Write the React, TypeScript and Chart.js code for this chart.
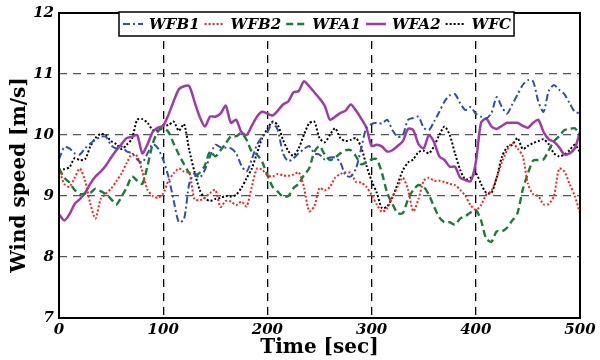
import React, { useEffect, useRef } from "react";
import { Chart, registerables } from "chart.js";

Chart.register(...registerables);

// Time samples [sec]
const TIME = Array.from({ length: 101 }, (_, i) => i * 5);

const WFB1 = [
  9.6, 9.8, 9.78, 9.7, 9.68, 9.78, 9.86, 9.92, 9.97, 9.97,
  9.83, 9.78, 9.81, 9.73, 9.7, 9.6, 9.55, 9.7, 9.85, 9.78,
  9.59, 9.32, 8.93, 8.57, 8.62, 9.2, 9.37, 9.3, 9.43, 9.65,
  9.84, 9.8, 9.79, 9.78, 9.7, 9.5, 9.4, 9.6, 9.84, 9.97,
  10.05, 10.2, 10.08, 9.7, 9.57, 9.62, 9.7, 9.77, 9.82, 9.7,
  9.68, 9.6, 9.63, 9.63, 9.55, 9.34, 9.32, 9.45, 9.78, 10.12,
  10.18, 10.2, 10.19, 10.25, 10.08, 9.97, 10.0, 10.25, 10.28, 10.3,
  10.12, 10.08, 10.22, 10.38, 10.55, 10.65, 10.67, 10.52, 10.41, 10.46,
  10.35, 10.3, 10.27, 10.36, 10.62, 10.46, 10.35, 10.5, 10.66, 10.82,
  10.9, 10.88, 10.55, 10.38, 10.72, 10.82, 10.74, 10.67, 10.52, 10.38,
  10.36,
];

const WFB2 = [
  9.45, 9.2, 9.15, 9.3, 9.45, 9.25, 8.88, 8.63, 8.95, 9.04,
  9.12, 9.24, 9.37, 9.54, 9.69, 9.65, 9.4, 9.1, 9.0, 8.97,
  9.04, 9.25, 9.37, 9.45, 9.4, 9.38, 8.95, 8.93, 8.97, 9.05,
  9.1, 8.82, 8.92, 8.91, 8.85, 8.91, 8.83, 9.15, 9.45, 9.43,
  9.34, 9.32, 9.36, 9.34, 9.33, 9.35, 9.39, 9.15, 8.75, 8.83,
  9.13, 9.09, 9.15, 9.3, 9.36, 9.39, 9.38, 9.23, 9.22, 9.15,
  9.02, 8.86, 8.74, 8.8, 8.98, 9.15, 9.3, 9.1, 8.75, 8.95,
  9.25, 9.3, 9.25, 9.25, 9.23, 9.2, 9.18, 9.1, 9.0, 8.85,
  8.77, 8.85, 9.02, 9.08, 9.3, 9.55, 9.75, 9.87, 9.78, 9.66,
  9.2, 9.03, 9.0, 8.86, 8.87, 9.0, 9.45, 9.4, 9.2, 9.0,
  8.72,
];

const WFA1 = [
  9.45, 9.3, 9.22, 9.1, 9.03, 9.04, 9.05, 9.12, 9.08, 9.03,
  8.95, 8.86, 8.99, 9.14, 9.32, 9.25, 9.2, 9.5, 9.86, 10.06,
  10.11, 10.05, 9.86, 9.68, 9.52, 9.38, 9.34, 9.38, 9.5, 9.73,
  9.65, 9.75, 9.86, 9.98, 9.98, 10.03, 9.92, 9.73, 9.68, 9.56,
  9.34, 9.15, 9.07, 8.99, 9.0, 9.13, 9.2, 9.34, 9.45, 9.72,
  9.82, 9.68, 9.59, 9.63, 9.7, 9.75, 9.75, 9.65, 9.52, 9.55,
  9.6, 9.6, 9.37, 9.05, 8.87, 8.72, 8.72, 8.95, 9.1, 9.18,
  9.15, 9.02, 8.82, 8.65, 8.57, 8.57, 8.53, 8.63, 8.67, 8.73,
  8.77, 8.6, 8.3, 8.25, 8.42, 8.42, 8.48, 8.6, 8.72, 9.1,
  9.37, 9.58, 9.59, 9.6, 9.75, 9.9, 9.98, 10.08, 10.1, 10.11,
  10.0,
];

const WFA2 = [
  8.7, 8.6, 8.7, 8.87, 8.95, 9.05, 9.2, 9.32, 9.4, 9.5,
  9.63, 9.75, 9.85, 9.95, 9.97, 10.0, 9.7, 9.85, 10.05, 10.12,
  10.15, 10.33, 10.55, 10.75, 10.8, 10.8, 10.55, 10.3, 10.14, 10.3,
  10.3, 10.35, 10.48, 10.2, 10.25, 10.05, 10.0, 10.15, 10.3, 10.38,
  10.35, 10.32, 10.4, 10.5, 10.55, 10.7, 10.72, 10.88, 10.8, 10.7,
  10.6, 10.48, 10.25, 10.3, 10.36, 10.4, 10.5, 10.4, 10.27, 10.12,
  9.82, 9.84, 9.81, 9.73, 9.75, 9.82, 9.9, 10.1, 10.08, 9.85,
  9.78, 10.0, 9.88, 9.65, 9.59, 9.48, 9.48, 9.3, 9.26, 9.24,
  9.55, 10.2, 10.27, 10.14, 10.1, 10.15, 10.2, 10.2, 10.2, 10.15,
  10.12, 10.2, 10.25, 10.05, 9.93, 9.89, 9.8, 9.68, 9.7, 9.78,
  10.05,
];

const WFC = [
  9.43, 9.44, 9.47, 9.62, 9.59, 9.6, 9.81, 9.95, 10.02, 9.99,
  9.9, 9.85, 9.77, 9.84, 9.94, 10.25, 10.26, 10.2, 10.08, 10.08,
  10.16, 10.16, 10.22, 10.07, 10.18, 9.75, 9.4, 9.1, 8.96, 8.92,
  8.95, 8.97, 9.0, 8.99, 9.02, 9.13, 9.29, 9.45, 9.7, 9.95,
  10.1, 10.22, 10.16, 9.92, 9.74, 9.66, 9.78, 10.0, 10.19, 10.22,
  9.95, 9.88, 10.0, 10.11, 9.95, 9.9, 9.92, 9.95, 9.8, 9.5,
  9.25, 9.05, 8.8, 8.83, 8.98, 9.2, 9.42, 9.55, 9.6, 9.72,
  9.74, 9.7, 9.82, 10.0, 10.14, 10.0, 9.7, 9.43, 9.27, 9.3,
  9.37, 9.2, 9.05, 9.05, 9.3, 9.64, 9.8, 9.84, 9.95, 9.77,
  9.82, 9.87, 9.9, 9.93, 9.85, 9.7, 9.65, 9.68, 9.75, 9.84,
  9.72,
];

const SERIES_NAMES = ["WFB1", "WFB2", "WFA1", "WFA2", "WFC"];
const SERIES_VALUES = [WFB1, WFB2, WFA1, WFA2, WFC];
const X_TITLE = "Time [sec]";
const Y_TITLE = "Wind speed [m/s]";
const X_MIN = 0, X_MAX = 500, X_STEP = 100;
const Y_MIN = 7, Y_MAX = 12, Y_STEP = 1;

const STYLES = [
  { color: "#2f4fae", dash: [7, 3, 2, 3], width: 2 },
  { color: "#ff2020", dash: [2, 2], width: 2 },
  { color: "#1b7d35", dash: [7, 4], width: 2.4 },
  { color: "#a03aa8", dash: [], width: 2.5 },
  { color: "#000000", dash: [2, 2], width: 2 },
];

const SERIF = '"DejaVu Serif", serif';

const framePlugin = {
  id: "frame",
  afterDraw(chart: any) {
    const { ctx, chartArea: a } = chart;
    ctx.save();
    ctx.strokeStyle = "#000";
    ctx.lineWidth = 2;
    ctx.setLineDash([]);
    ctx.strokeRect(a.left, a.top, a.right - a.left, a.bottom - a.top);

    // y-axis title
    ctx.translate(20, 175);
    ctx.rotate(-Math.PI / 2);
    ctx.font = `bold 20px ${SERIF}`;
    ctx.fillStyle = "#000";
    ctx.textAlign = "center";
    ctx.textBaseline = "middle";
    ctx.fillText(Y_TITLE, 0, 0);
    ctx.restore();

    // legend box
    ctx.save();
    ctx.font = `bold italic 15px ${SERIF}`;
    const sample = 20, gap1 = 6, gap2 = 5, padL = 4, padR = 3;
    const items = chart.data.datasets.map((d: any) => ({
      label: d.label,
      color: d.borderColor,
      dash: d.borderDash,
      width: d.borderWidth,
      w: ctx.measureText(d.label).width,
    }));
    let total = padL + padR;
    items.forEach((it: any, i: number) => {
      total += sample + gap1 + it.w + (i < items.length - 1 ? gap2 : 0);
    });
    const cx = 317;
    const bx = Math.round(cx - total / 2);
    const by = 12, bh = 24;
    ctx.fillStyle = "#fff";
    ctx.fillRect(bx, by, total, bh);
    ctx.strokeStyle = "#000";
    ctx.lineWidth = 1.5;
    ctx.strokeRect(bx, by, total, bh);
    let x = bx + padL;
    const ym = by + bh / 2;
    items.forEach((it: any) => {
      ctx.beginPath();
      ctx.strokeStyle = it.color;
      ctx.lineWidth = it.width;
      ctx.setLineDash(it.dash || []);
      ctx.moveTo(x, ym);
      ctx.lineTo(x + sample, ym);
      ctx.stroke();
      ctx.setLineDash([]);
      x += sample + gap1;
      ctx.fillStyle = "#000";
      ctx.textAlign = "left";
      ctx.textBaseline = "middle";
      ctx.fillText(it.label, x, ym + 1);
      x += it.w + gap2;
    });
    ctx.restore();
  },
};

export default function App() {
  const ref = useRef<HTMLCanvasElement | null>(null);

  useEffect(() => {
    document.body.style.margin = "0";
    const canvas = ref.current;
    if (!canvas) return;
    const datasets = SERIES_NAMES.map((name, k) => ({
      label: name,
      data: TIME.map((t, i) => ({ x: t, y: SERIES_VALUES[k][i] })),
      borderColor: STYLES[k].color,
      backgroundColor: STYLES[k].color,
      borderDash: STYLES[k].dash,
      borderWidth: STYLES[k].width,
      pointRadius: 0,
      tension: 0.25,
      fill: false,
    }));

    const chart = new Chart(canvas, {
      type: "line",
      data: { datasets },
      options: {
        animation: false,
        responsive: false,
        maintainAspectRatio: false,
        layout: { padding: { top: 13, right: 20, left: 0, bottom: 0 } },
        plugins: { legend: { display: false }, tooltip: { enabled: false } },
        scales: {
          x: {
            type: "linear",
            min: X_MIN,
            max: X_MAX,
            ticks: {
              stepSize: X_STEP,
              padding: 3,
              color: "#000",
              font: { family: SERIF, size: 15, weight: "bold", style: "italic" },
            },
            grid: {
              drawTicks: false,
              lineWidth: 1.3,
              color: (c: any) =>
                c.tick && (c.tick.value === X_MIN || c.tick.value === X_MAX) ? "rgba(0,0,0,0)" : "#000",
            },
            border: { display: false, dash: [8, 6] },
            title: {
              display: true,
              text: X_TITLE,
              color: "#000",
              padding: 0,
              font: { family: SERIF, size: 20, weight: "bold" },
            },
            afterFit: (s: any) => {
              s.height = 42;
              s.paddingLeft = 0;
              s.paddingRight = 0;
            },
          },
          y: {
            min: Y_MIN,
            max: Y_MAX,
            ticks: {
              stepSize: Y_STEP,
              padding: 5,
              color: "#000",
              font: { family: SERIF, size: 15, weight: "bold", style: "italic" },
            },
            grid: {
              drawTicks: false,
              lineWidth: 1.3,
              color: (c: any) =>
                c.tick && (c.tick.value === Y_MIN || c.tick.value === Y_MAX) ? "rgba(0,0,0,0)" : "#555",
            },
            border: { display: false, dash: [8, 6] },
            afterFit: (s: any) => {
              s.width = 59;
              s.paddingTop = 0;
              s.paddingBottom = 0;
            },
          },
        },
      },
      plugins: [framePlugin],
    });
    return () => chart.destroy();
  }, []);

  return (
    <div style={{ width: 600, height: 360 }}>
      <canvas ref={ref} width={600} height={360} />
    </div>
  );
}
